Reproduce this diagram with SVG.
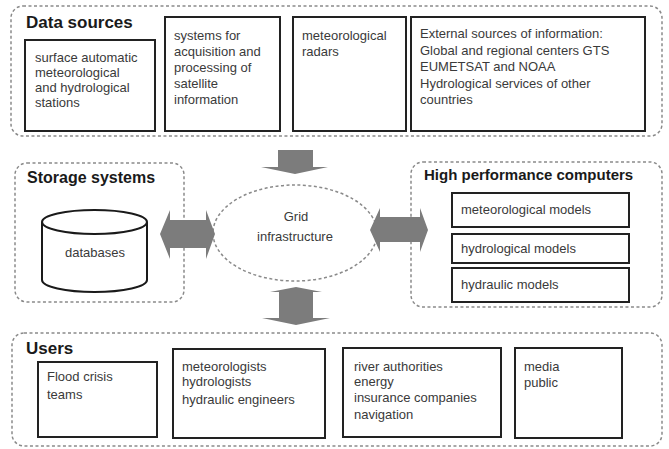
<svg xmlns="http://www.w3.org/2000/svg" width="669" height="449" viewBox="0 0 669 449">
<style>
.bg{fill:#fff}
.cont{fill:none;stroke:#8a8a8a;stroke-width:1.5;stroke-dasharray:3 2.5}
.box{fill:#fff;stroke:#222;stroke-width:2}
.t{font-family:"Liberation Sans",Arial,sans-serif;font-size:13px;fill:#3a3a3a}
.h{font-family:"Liberation Sans",Arial,sans-serif;font-weight:bold;fill:#1a1a1a}
.arr{fill:#7c7c7c}
.cyl{fill:#fff;stroke:#1a1a1a;stroke-width:2}
</style>
<rect class="bg" x="0" y="0" width="669" height="449"/>

<g id="data-sources">
<rect class="cont" x="11" y="6" width="651" height="130" rx="12"/>
<text class="h" x="26" y="28" font-size="17">Data sources</text>
</g>
<g id="ds-stations">
<rect class="box" x="25" y="40" width="130" height="91"/>
<text class="t" x="35" y="62">surface automatic</text>
<text class="t" x="35" y="77">meteorological</text>
<text class="t" x="35" y="92">and hydrological</text>
<text class="t" x="35" y="107">stations</text>
</g>
<g id="ds-satellite">
<rect class="box" x="165" y="17" width="115" height="114"/>
<text class="t" x="174" y="40">systems for</text>
<text class="t" x="174" y="56">acquisition and</text>
<text class="t" x="174" y="72">processing of</text>
<text class="t" x="174" y="88">satellite</text>
<text class="t" x="174" y="104">information</text>
</g>
<g id="ds-radars">
<rect class="box" x="293" y="17" width="113" height="114"/>
<text class="t" x="302" y="40">meteorological</text>
<text class="t" x="302" y="56">radars</text>
</g>
<g id="ds-external">
<rect class="box" x="411" y="17" width="234" height="114"/>
<text class="t" x="420" y="38">External sources of information:</text>
<text class="t" x="420" y="55">Global and regional centers GTS</text>
<text class="t" x="420" y="71">EUMETSAT and NOAA</text>
<text class="t" x="420" y="88">Hydrological services of other</text>
<text class="t" x="420" y="104">countries</text>
</g>

<g id="storage">
<rect class="cont" x="15" y="163" width="169" height="139" rx="12"/>
<text class="h" x="27" y="183" font-size="16">Storage systems</text>
<path class="cyl" d="M42,222 L42,280 A52.5,12 0 0 0 147,280 L147,222 A52.5,12 0 0 0 42,222 A52.5,12 0 0 0 147,222"/>
<text class="t" x="95" y="257" text-anchor="middle">databases</text>
</g>

<g id="grid">
<ellipse cx="295" cy="233" rx="82" ry="48" fill="none" stroke="#8a8a8a" stroke-width="1.5" stroke-dasharray="3 2.5"/>
<text class="t" x="296" y="221" text-anchor="middle">Grid</text>
<text class="t" x="295" y="241" text-anchor="middle">infrastructure</text>
</g>

<g id="hpc">
<rect class="cont" x="411" y="162" width="251" height="145" rx="12"/>
<text class="h" x="424" y="180" font-size="15">High performance computers</text>
</g>
<g id="hpc-met">
<rect class="box" x="452" y="193" width="177" height="34"/>
<text class="t" x="461" y="214">meteorological models</text>
</g>
<g id="hpc-hyd">
<rect class="box" x="452" y="234" width="177" height="29"/>
<text class="t" x="461" y="253">hydrological models</text>
</g>
<g id="hpc-hydr">
<rect class="box" x="452" y="268" width="177" height="34"/>
<text class="t" x="461" y="289">hydraulic models</text>
</g>

<g id="users">
<rect class="cont" x="12" y="333" width="650" height="113" rx="12"/>
<text class="h" x="26" y="354" font-size="17">Users</text>
</g>
<g id="users-flood">
<rect class="box" x="38" y="362" width="119" height="75"/>
<text class="t" x="47" y="381">Flood crisis</text>
<text class="t" x="47" y="399">teams</text>
</g>
<g id="users-scientists">
<rect class="box" x="173" y="349" width="152" height="89"/>
<text class="t" x="182" y="371">meteorologists</text>
<text class="t" x="182" y="386">hydrologists</text>
<text class="t" x="182" y="404">hydraulic engineers</text>
</g>
<g id="users-authorities">
<rect class="box" x="343" y="348" width="158" height="89"/>
<text class="t" x="354" y="371">river authorities</text>
<text class="t" x="354" y="386">energy</text>
<text class="t" x="354" y="402">insurance companies</text>
<text class="t" x="354" y="419">navigation</text>
</g>
<g id="users-media">
<rect class="box" x="515" y="348" width="107" height="90"/>
<text class="t" x="524" y="371">media</text>
<text class="t" x="524" y="387">public</text>
</g>

<g id="connectors">
<polygon class="arr" points="278,150 313,150 313,167 328,167 295,174 261,167 278,167"/>
<polygon class="arr" points="160,234 170,210 170,220 206,220 206,210 215,234 206,259 206,248 170,248 170,259"/>
<polygon class="arr" points="370,230 380,208 380,217 420,217 420,208 428,230 420,252 420,242 380,242 380,252"/>
<polygon class="arr" points="296,287 322,292 313,292 313,318 330,318 296,325 262,318 279,318 279,292 270,292"/>
</g>
</svg>
